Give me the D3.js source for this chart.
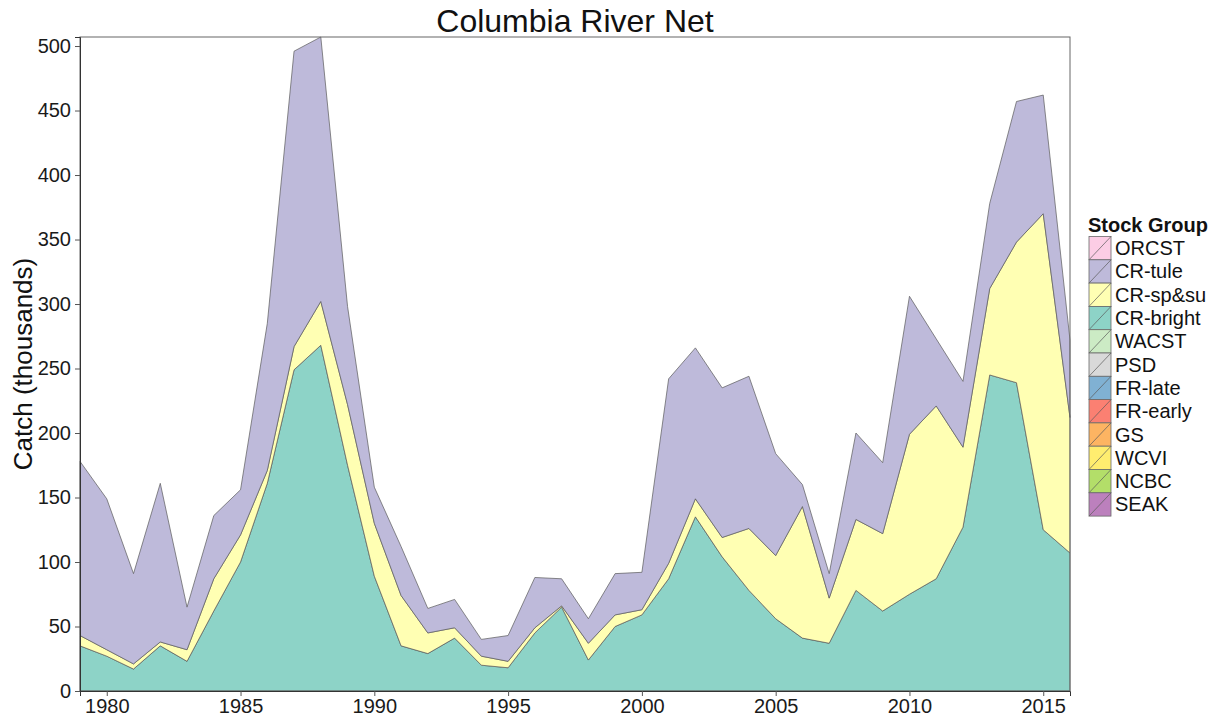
<!DOCTYPE html>
<html>
<head>
<meta charset="utf-8">
<script src="https://cdn.jsdelivr.net/npm/d3@7"></script>
<style>
  html, body { margin: 0; padding: 0; background: #fff; }
  svg { display: block; font-family: "Liberation Sans", Arial, sans-serif; }
</style>
</head>
<body>
<svg id="chart" width="1217" height="721"></svg>
<script>
// Columbia River net fishery catch (thousands) by stock group
const years = [1979,1980,1981,1982,1983,1984,1985,1986,1987,1988,1989,1990,1991,1992,1993,1994,1995,1996,1997,1998,
  1999,2000,2001,2002,2003,2004,2005,2006,2007,2008,2009,2010,2011,2012,2013,2014,2015,2016];

const crBright = [35,27,17,35,23,62,100,161,249,268,175,89,35,29,41,20,18,45,65,24,
  50,59,87,135,104,78,56,41,37,78,62,75,87,127,245,239,125,107];
const crSpSu = [8,5,4,3,9,25,21,10,18,34,47,41,39,16,8,7,5,4,1,13,
  9,4,12,14,15,48,49,102,35,55,60,124,134,62,67,109,245,105];
const crTule = [135,117,70,123,33,49,35,114,229,205,76,28,38,19,22,13,20,39,21,19,
  32,29,143,117,116,118,79,17,19,67,55,107,52,51,66,109,92,60];

// legend order, top to bottom
const stockGroups = ["ORCST","CR-tule","CR-sp&su","CR-bright","WACST","PSD","FR-late","FR-early","GS","WCVI","NCBC","SEAK"];
const groupColors = ["#FCCDE5","#BEBADA","#FFFFB3","#8DD3C7","#CCEBC5","#D9D9D9","#80B1D3","#FB8072","#FDB462","#FFED6F","#B3DE69","#BC80BD"];

const xTicks = [1980,1985,1990,1995,2000,2005,2010,2015];
const yTicks = [0,50,100,150,200,250,300,350,400,450,500];

// groups with catch in this fishery, stacked bottom to top
const seriesValues = { "CR-bright": crBright, "CR-sp&su": crSpSu, "CR-tule": crTule };
const stackKeys = ["CR-bright","CR-sp&su","CR-tule"];
const table = years.map((yr, i) => {
  const row = { year: yr };
  stackKeys.forEach(k => row[k] = seriesValues[k][i]);
  return row;
});

const svg = d3.select("#chart");
const plot = { left: 80, right: 1070, top: 37, bottom: 691 };

const color = d3.scaleOrdinal().domain(stockGroups).range(groupColors);
const stacked = d3.stack().keys(stackKeys)(table);
const yMax = d3.max(stacked[stacked.length - 1], d => d[1]);

const x = d3.scaleLinear().domain(d3.extent(years)).range([plot.left, plot.right]);
const y = d3.scaleLinear().domain([0, yMax]).range([plot.bottom, plot.top]);

const area = d3.area()
  .x(d => x(d.data.year))
  .y0(d => y(d[0]))
  .y1(d => y(d[1]));

svg.append("g")
  .selectAll("path")
  .data(stacked)
  .join("path")
  .attr("d", area)
  .attr("fill", d => color(d.key))
  .attr("stroke", "#5a5a5a")
  .attr("stroke-width", 0.7)
  .attr("stroke-linejoin", "miter");

// panel border
svg.append("rect")
  .attr("x", plot.left).attr("y", plot.top)
  .attr("width", plot.right - plot.left).attr("height", plot.bottom - plot.top)
  .attr("fill", "none").attr("stroke", "#666").attr("stroke-width", 1);

// axes
const xAxis = svg.append("g")
  .attr("transform", `translate(0,${plot.bottom})`)
  .call(d3.axisBottom(x).tickValues(xTicks).tickFormat(d3.format("d")).tickSize(5).tickPadding(3));
const yAxis = svg.append("g")
  .attr("transform", `translate(${plot.left},0)`)
  .call(d3.axisLeft(y).tickValues(yTicks).tickSize(5).tickPadding(4));

[xAxis, yAxis].forEach(g => {
  g.select(".domain").attr("stroke", "#333");
  g.selectAll(".tick line").attr("stroke", "#555");
  g.selectAll(".tick text")
    .attr("fill", "#1a1a1a")
    .style("font-size", "20px")
    .style("font-family", "'Liberation Sans', Arial, sans-serif");
});

// title
svg.append("text")
  .attr("x", (plot.left + plot.right) / 2)
  .attr("y", 32)
  .attr("text-anchor", "middle")
  .attr("fill", "#111")
  .style("font-size", "32px")
  .text("Columbia River Net");

// y axis title
svg.append("text")
  .attr("transform", `translate(32,${(plot.top + plot.bottom) / 2}) rotate(-90)`)
  .attr("text-anchor", "middle")
  .attr("fill", "#111")
  .style("font-size", "26px")
  .text("Catch (thousands)");

// legend
const legend = svg.append("g").attr("transform", "translate(1089,0)");
legend.append("text")
  .attr("x", -1).attr("y", 232)
  .attr("fill", "#111")
  .style("font-size", "20px")
  .style("font-weight", "bold")
  .text("Stock Group");

const keyH = 23.3, keyW = 22, keyTop = 236.5;
const item = legend.selectAll("g.item")
  .data(stockGroups)
  .join("g")
  .attr("class", "item")
  .attr("transform", (d, i) => `translate(0,${keyTop + i * keyH})`);

item.append("rect")
  .attr("width", keyW).attr("height", keyH)
  .attr("fill", d => color(d))
  .attr("stroke", "#6a6a6a").attr("stroke-width", 0.8);
item.append("line")
  .attr("x1", 0).attr("y1", keyH).attr("x2", keyW).attr("y2", 0)
  .attr("stroke", "#5a5a5a").attr("stroke-width", 0.7);
item.append("text")
  .attr("x", keyW + 4).attr("y", keyH / 2)
  .attr("dy", "0.35em")
  .attr("fill", "#111")
  .style("font-size", "20px")
  .text(d => d);
</script>
</body>
</html>
